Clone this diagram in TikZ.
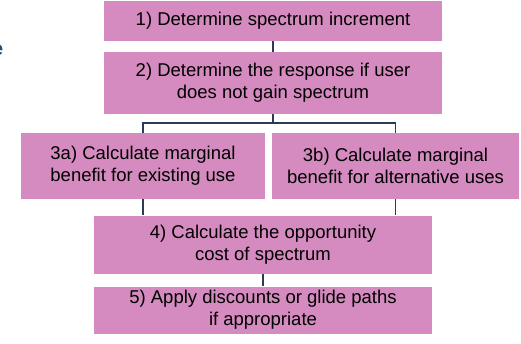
\documentclass[tikz,border=0pt]{standalone}
\usepackage{fontspec}
\setmainfont{Liberation Sans}
\definecolor{boxpink}{RGB}{213,139,191}
\definecolor{linenavy}{RGB}{44,58,85}
\definecolor{titleblue}{RGB}{31,78,121}
\begin{document}
\begin{tikzpicture}[x=1pt,y=-1pt,
  stepbox/.style={fill=boxpink,draw=none,inner sep=0pt,align=center,
    font=\fontsize{18.5}{22}\selectfont,text=black},
  link/.style={draw=linenavy,line width=1.5pt}]
\useasboundingbox (0,0) rectangle (521,343);
\node[stepbox,minimum width=338,minimum height=40] (b1) at (273,21) {1) Determine spectrum increment};
\node[stepbox,minimum width=338,minimum height=62] (b2) at (273,83) {2) Determine the response if user\\does not gain spectrum};
\node[stepbox,minimum width=244,minimum height=66] (b3a) at (143,166) {3a) Calculate marginal\\benefit for existing use};
\node[stepbox,minimum width=247,minimum height=66] (b3b) at (395.5,166) {3b) Calculate marginal\\benefit for alternative uses};
\node[stepbox,minimum width=338,minimum height=58] (b4) at (263,244.5) {4) Calculate the opportunity\\cost of spectrum};
\node[stepbox,minimum width=338,minimum height=47] (b5) at (263,310) {5) Apply discounts or glide paths\\if appropriate};
\node[anchor=east,inner sep=0pt,text=titleblue,font=\fontsize{20}{24}\selectfont\bfseries] (frag) at (3.5,50) {e};
\coordinate (split) at (273,123);
\draw[link] (b1.south) -- (b2.north);
\draw[link] (b2.south) -- (split);
\draw[link] (split) -| (b3a.north);
\draw[link] (split) -| (b3b.north);
\draw[link] (b3a.south) -- (b3a.south |- b4.north);
\draw[link] (b3b.south) -- (b3b.south |- b4.north);
\draw[link] (b4.south) -- (b5.north);
\end{tikzpicture}
\end{document}
